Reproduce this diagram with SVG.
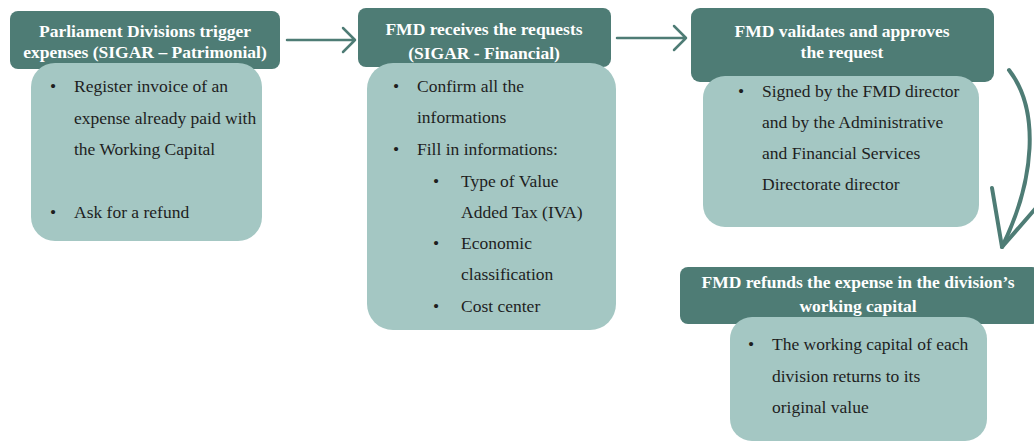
<svg xmlns="http://www.w3.org/2000/svg" width="1034" height="443" viewBox="0 0 1034 443">
<style>
.hd{fill:#4e7c75}
.bd{fill:#a4c7c3}
text{font-family:'Liberation Serif','Times New Roman',Tinos,'DejaVu Serif',serif}
.ht{font-weight:bold;font-size:17.5px;fill:#ffffff;text-anchor:middle}
.bt{font-size:17.5px;fill:#1e1e1e}
.ar{fill:none;stroke:#4e7c75;stroke-width:2.5;stroke-linecap:round;stroke-linejoin:round}
.ac{fill:none;stroke:#4e7c75;stroke-width:4;stroke-linecap:round;stroke-linejoin:round}
</style>
<rect width="1034" height="443" fill="#ffffff"/>
<g id="node1">
<rect class="hd" x="10" y="11" width="270" height="58" rx="8"/>
<rect class="bd" x="31" y="63" width="231" height="178" rx="24"/>
<text class="ht" x="145" y="37">Parliament Divisions trigger</text>
<text class="ht" x="145" y="58">expenses (SIGAR – Patrimonial)</text>
<text class="bt" x="50" y="92">•</text>
<text class="bt" x="74" y="92">Register invoice of an</text>
<text class="bt" x="74" y="124">expense already paid with</text>
<text class="bt" x="74" y="155">the Working Capital</text>
<text class="bt" x="50" y="218">•</text>
<text class="bt" x="74" y="218">Ask for a refund</text>
</g>
<g id="node2">
<rect class="hd" x="358" y="8" width="253" height="59" rx="8"/>
<rect class="bd" x="367" y="63" width="249" height="267" rx="26"/>
<text class="ht" x="484" y="35">FMD receives the requests</text>
<text class="ht" x="484" y="59">(SIGAR - Financial)</text>
<text class="bt" x="393" y="92">•</text>
<text class="bt" x="417" y="92">Confirm all the</text>
<text class="bt" x="417" y="123">informations</text>
<text class="bt" x="393" y="155">•</text>
<text class="bt" x="417" y="155">Fill in informations:</text>
<text class="bt" x="433" y="187">•</text>
<text class="bt" x="461" y="187">Type of Value</text>
<text class="bt" x="461" y="218">Added Tax (IVA)</text>
<text class="bt" x="433" y="249">•</text>
<text class="bt" x="461" y="249">Economic</text>
<text class="bt" x="461" y="280">classification</text>
<text class="bt" x="433" y="312">•</text>
<text class="bt" x="461" y="312">Cost center</text>
</g>
<g id="node3">
<rect class="hd" x="691" y="8" width="303" height="74" rx="9"/>
<rect class="bd" x="703" y="76" width="276" height="151" rx="22"/>
<text class="ht" x="842" y="37">FMD validates and approves</text>
<text class="ht" x="842" y="58">the request</text>
<text class="bt" x="738" y="97">•</text>
<text class="bt" x="762" y="97">Signed by the FMD director</text>
<text class="bt" x="762" y="128">and by the Administrative</text>
<text class="bt" x="762" y="159">and Financial Services</text>
<text class="bt" x="762" y="190">Directorate director</text>
</g>
<g id="node4">
<rect class="hd" x="680" y="267" width="360" height="57" rx="8"/>
<rect class="bd" x="730" y="317" width="257" height="124" rx="22"/>
<text class="ht" x="858" y="288">FMD refunds the expense in the division’s</text>
<text class="ht" x="858" y="312">working capital</text>
<text class="bt" x="748" y="350">•</text>
<text class="bt" x="772" y="350">The working capital of each</text>
<text class="bt" x="772" y="382">division returns to its</text>
<text class="bt" x="772" y="413">original value</text>
</g>
<g id="connectors">
<path class="ar" d="M287,40 H355 M343,28 L355,40 L343,52"/>
<path class="ar" d="M617,38 H686 M674,26 L686,38 L674,50"/>
<path class="ac" d="M1009,70 C1040,110 1035,180 1002,247"/>
<path class="ac" d="M992,188 L1002,247 L1036,208"/>
</g>
</svg>
